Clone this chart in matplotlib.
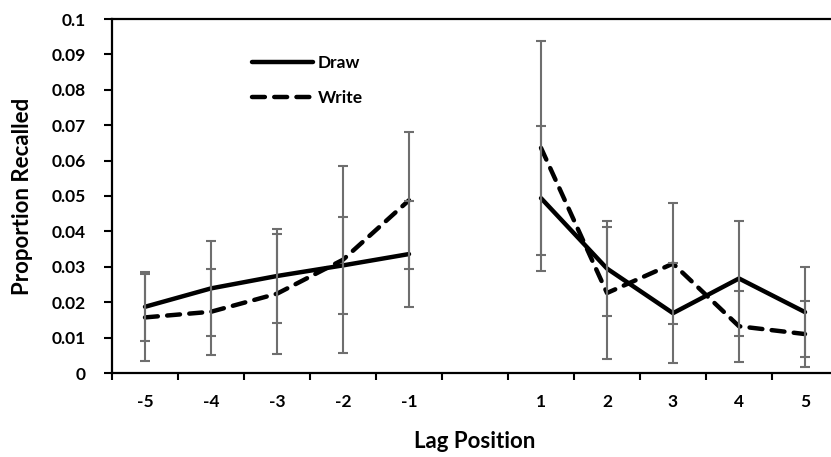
import matplotlib
matplotlib.use("Agg")
import matplotlib.pyplot as plt
import numpy as np

plt.rcParams['font.family'] = ['Lato', 'DejaVu Sans']
plt.rcParams['font.weight'] = 'bold'

categories = ['-5', '-4', '-3', '-2', '-1', '', '1', '2', '3', '4', '5']
draw_vals = [0.0187, 0.0239, 0.0274, 0.0304, 0.0336, np.nan, 0.0494, 0.0295, 0.0169, 0.0267, 0.0172]
draw_err = [0.0098, 0.0135, 0.0133, 0.0136, 0.0150, np.nan, 0.0205, 0.0135, 0.0142, 0.0162, 0.0128]
write_vals = [0.0157, 0.0173, 0.0224, 0.0320, 0.0488, np.nan, 0.0636, 0.0226, 0.0309, 0.0132, 0.0110]
write_err = [0.0122, 0.0121, 0.0170, 0.0264, 0.0193, np.nan, 0.0303, 0.0186, 0.0170, 0.0100, 0.0092]
y_ticks = [0, 0.01, 0.02, 0.03, 0.04, 0.05, 0.06, 0.07, 0.08, 0.09, 0.1]
y_ticklabels = ['0', '0.01', '0.02', '0.03', '0.04', '0.05', '0.06', '0.07', '0.08', '0.09', '0.1']

fig = plt.figure(figsize=(8.31, 4.57), dpi=100)
ax = fig.add_axes([112/831, 84/457, 726/831, 354/457])

x = np.arange(len(categories))
ecol = '#6e6e6e'
ax.errorbar(x, draw_vals, yerr=draw_err, fmt='none', ecolor=ecol, elinewidth=1.5,
            capsize=3.6, capthick=1.5, zorder=3)
ax.errorbar(x, write_vals, yerr=write_err, fmt='none', ecolor=ecol, elinewidth=1.5,
            capsize=3.6, capthick=1.5, zorder=3)
ax.plot(x, draw_vals, color='black', lw=3.2, solid_capstyle='round',
        solid_joinstyle='round', label='Draw', zorder=2)
ax.plot(x, write_vals, color='black', lw=3.2, dashes=(2.9, 2.1), dash_capstyle='round',
        label='Write', zorder=2)

ax.set_xlim(-0.5, len(categories) - 0.5)
ax.set_ylim(0, 0.1)
ax.set_yticks(y_ticks)
ax.set_yticklabels(y_ticklabels)

ax.set_xticks(np.arange(len(categories) + 1) - 0.5)
ax.set_xticklabels([])
ax.set_xticks(x, minor=True)
ax.set_xticklabels(categories, minor=True)
ax.tick_params(axis='x', which='minor', length=0, pad=15, labelsize=12.5)
ax.tick_params(axis='x', which='major', length=5, width=1.5, direction='out')
ax.tick_params(axis='y', length=6, width=1.5, direction='out', pad=13, labelsize=12.5)

for s in ax.spines.values():
    s.set_linewidth(1.6)
    s.set_color('black')

ax.set_xlabel('Lag Position', fontsize=16, fontweight='bold', labelpad=15)
ax.set_ylabel('Proportion Recalled', fontsize=16, fontweight='bold', labelpad=13)

leg = ax.legend(loc='upper left', bbox_to_anchor=(252/831, 1 - 55/457),
                bbox_transform=fig.transFigure, frameon=False, borderpad=0,
                borderaxespad=0, handlelength=3.5, handletextpad=0.3,
                labelspacing=1.1, prop={'size': 12.5, 'weight': 'bold'})

fig.savefig('out.png', dpi=100)
